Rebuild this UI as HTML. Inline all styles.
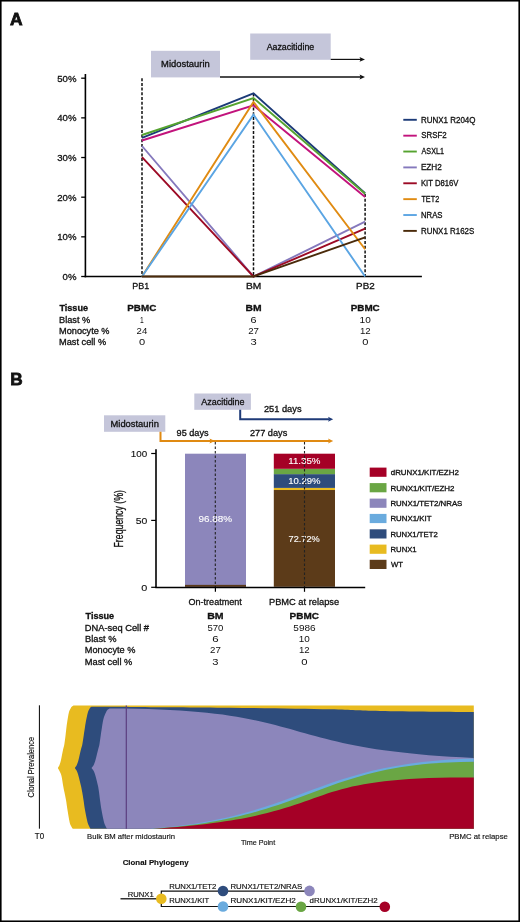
<!DOCTYPE html>
<html><head><meta charset="utf-8"><style>
html,body{margin:0;padding:0;background:#fff;width:520px;height:922px;overflow:hidden}
svg{display:block;will-change:transform}
text{font-family:"Liberation Sans", sans-serif;stroke:#111;stroke-width:0.3px}
</style></head><body>
<svg width="520" height="922" viewBox="0 0 520 922" font-family='"Liberation Sans", sans-serif' fill="#111">
<rect x="0" y="0" width="520" height="922" fill="#fff"/>
<text x="9.97" y="24.60" font-size="17.01" textLength="12.59" lengthAdjust="spacingAndGlyphs" font-weight="bold" style="stroke-width:0.8px">A</text>
<rect x="151" y="50.8" width="69" height="26.6" fill="#c5c6da"/>
<text x="161.13" y="66.90" font-size="8.97" textLength="48.58" lengthAdjust="spacingAndGlyphs">Midostaurin</text>
<rect x="250.2" y="33.5" width="80.5" height="26.3" fill="#c5c6da"/>
<text x="266.68" y="49.50" font-size="8.83" textLength="47.51" lengthAdjust="spacingAndGlyphs">Aazacitidine</text>
<line x1="220" y1="77" x2="361" y2="77" stroke="#111" stroke-width="1.4"/>
<path d="M365,77 L359.5,74.6 L360.7,77 L359.5,79.4 Z" fill="#111"/>
<line x1="330.7" y1="59.4" x2="361" y2="59.4" stroke="#111" stroke-width="1.2"/>
<path d="M365,59.4 L359.5,57.0 L360.7,59.4 L359.5,61.8 Z" fill="#111"/>
<line x1="85.4" y1="74" x2="85.4" y2="277.3" stroke="#000" stroke-width="1.6"/>
<line x1="84.6" y1="276.5" x2="421.9" y2="276.5" stroke="#000" stroke-width="1.6"/>
<line x1="81.2" y1="276.50" x2="85.4" y2="276.50" stroke="#000" stroke-width="1.3"/>
<text x="62.57" y="279.90" font-size="9.60" textLength="13.87" lengthAdjust="spacingAndGlyphs">0%</text>
<line x1="81.2" y1="236.84" x2="85.4" y2="236.84" stroke="#000" stroke-width="1.3"/>
<text x="57.24" y="240.24" font-size="9.60" textLength="19.21" lengthAdjust="spacingAndGlyphs">10%</text>
<line x1="81.2" y1="197.18" x2="85.4" y2="197.18" stroke="#000" stroke-width="1.3"/>
<text x="57.24" y="200.58" font-size="9.60" textLength="19.21" lengthAdjust="spacingAndGlyphs">20%</text>
<line x1="81.2" y1="157.52" x2="85.4" y2="157.52" stroke="#000" stroke-width="1.3"/>
<text x="57.24" y="160.92" font-size="9.60" textLength="19.21" lengthAdjust="spacingAndGlyphs">30%</text>
<line x1="81.2" y1="117.86" x2="85.4" y2="117.86" stroke="#000" stroke-width="1.3"/>
<text x="57.24" y="121.26" font-size="9.60" textLength="19.21" lengthAdjust="spacingAndGlyphs">40%</text>
<line x1="81.2" y1="78.20" x2="85.4" y2="78.20" stroke="#000" stroke-width="1.3"/>
<text x="57.24" y="81.60" font-size="9.60" textLength="19.21" lengthAdjust="spacingAndGlyphs">50%</text>
<line x1="142" y1="78.2" x2="142" y2="276.5" stroke="#111" stroke-width="1.5" stroke-dasharray="3 1.7"/>
<line x1="253.5" y1="93.4" x2="253.5" y2="276.5" stroke="#111" stroke-width="1.5" stroke-dasharray="3 1.7"/>
<line x1="365.1" y1="194" x2="365.1" y2="276.5" stroke="#111" stroke-width="1.5" stroke-dasharray="3 1.7"/>
<polyline points="142,137.9 253.5,93.4 365.1,193.2" fill="none" stroke="#1c3b78" stroke-width="1.9" stroke-linejoin="miter"/>
<polyline points="142,140.5 253.5,105.4 365.1,197.0" fill="none" stroke="#c2137c" stroke-width="1.9" stroke-linejoin="miter"/>
<polyline points="142,135.0 253.5,98.0 365.1,193.8" fill="none" stroke="#55a32f" stroke-width="1.9" stroke-linejoin="miter"/>
<polyline points="142,146.0 253.5,276.5 365.1,221.7" fill="none" stroke="#8579bd" stroke-width="1.9" stroke-linejoin="miter"/>
<polyline points="142,157.1 253.5,276.5 365.1,228.6" fill="none" stroke="#9c0a25" stroke-width="1.9" stroke-linejoin="miter"/>
<polyline points="142,276.5 253.5,101.9 365.1,249.2" fill="none" stroke="#e08b12" stroke-width="1.9" stroke-linejoin="miter"/>
<polyline points="142,276.5 253.5,114.6 365.1,276.5" fill="none" stroke="#5ba5e3" stroke-width="1.9" stroke-linejoin="miter"/>
<polyline points="142,276.5 253.5,276.5 365.1,237.3" fill="none" stroke="#4a2a0a" stroke-width="1.9" stroke-linejoin="miter"/>
<text x="132.36" y="288.90" font-size="9.74" textLength="16.98" lengthAdjust="spacingAndGlyphs">PB1</text>
<text x="245.96" y="288.80" font-size="9.59" textLength="15.38" lengthAdjust="spacingAndGlyphs">BM</text>
<text x="356.09" y="288.80" font-size="9.45" textLength="18.60" lengthAdjust="spacingAndGlyphs">PB2</text>
<line x1="403.3" y1="119.80" x2="416.8" y2="119.80" stroke="#1c3b78" stroke-width="1.9"/>
<text x="420.95" y="122.60" font-size="8.59" textLength="54.54" lengthAdjust="spacingAndGlyphs">RUNX1 R204Q</text>
<line x1="403.3" y1="135.67" x2="416.8" y2="135.67" stroke="#c2137c" stroke-width="1.9"/>
<text x="421.24" y="138.47" font-size="8.59" textLength="25.46" lengthAdjust="spacingAndGlyphs">SRSF2</text>
<line x1="403.3" y1="151.54" x2="416.8" y2="151.54" stroke="#55a32f" stroke-width="1.9"/>
<text x="421.59" y="154.34" font-size="8.59" textLength="22.36" lengthAdjust="spacingAndGlyphs">ASXL1</text>
<line x1="403.3" y1="167.41" x2="416.8" y2="167.41" stroke="#8579bd" stroke-width="1.9"/>
<text x="420.93" y="170.21" font-size="8.59" textLength="20.88" lengthAdjust="spacingAndGlyphs">EZH2</text>
<line x1="403.3" y1="183.28" x2="416.8" y2="183.28" stroke="#9c0a25" stroke-width="1.9"/>
<text x="420.97" y="186.08" font-size="8.59" textLength="37.46" lengthAdjust="spacingAndGlyphs">KIT D816V</text>
<line x1="403.3" y1="199.15" x2="416.8" y2="199.15" stroke="#e08b12" stroke-width="1.9"/>
<text x="421.44" y="201.95" font-size="8.59" textLength="17.73" lengthAdjust="spacingAndGlyphs">TET2</text>
<line x1="403.3" y1="215.02" x2="416.8" y2="215.02" stroke="#5ba5e3" stroke-width="1.9"/>
<text x="420.96" y="217.82" font-size="8.59" textLength="21.59" lengthAdjust="spacingAndGlyphs">NRAS</text>
<line x1="403.3" y1="230.89" x2="416.8" y2="230.89" stroke="#4a2a0a" stroke-width="1.9"/>
<text x="420.95" y="233.69" font-size="8.59" textLength="53.31" lengthAdjust="spacingAndGlyphs">RUNX1 R162S</text>
<text x="59.40" y="311.40" font-size="8.56" textLength="28.61" lengthAdjust="spacingAndGlyphs" font-weight="bold">Tissue</text>
<text x="59.04" y="322.70" font-size="8.69" textLength="31.29" lengthAdjust="spacingAndGlyphs">Blast %</text>
<text x="59.05" y="334.00" font-size="8.94" textLength="50.48" lengthAdjust="spacingAndGlyphs">Monocyte %</text>
<text x="59.04" y="345.20" font-size="8.56" textLength="47.08" lengthAdjust="spacingAndGlyphs">Mast cell %</text>
<text x="127.29" y="311.40" font-size="8.95" textLength="29.03" lengthAdjust="spacingAndGlyphs" font-weight="bold">PBMC</text>
<text x="245.56" y="311.40" font-size="9.08" textLength="16.08" lengthAdjust="spacingAndGlyphs" font-weight="bold">BM</text>
<text x="350.69" y="311.40" font-size="8.95" textLength="29.03" lengthAdjust="spacingAndGlyphs" font-weight="bold">PBMC</text>
<text x="140.04" y="322.70" font-size="8.87" textLength="3.74" lengthAdjust="spacingAndGlyphs" style="stroke-width:0px">1</text>
<text x="250.55" y="322.70" font-size="8.74" textLength="6.03" lengthAdjust="spacingAndGlyphs" style="stroke-width:0px">6</text>
<text x="359.64" y="322.70" font-size="8.74" textLength="11.16" lengthAdjust="spacingAndGlyphs" style="stroke-width:0px">10</text>
<text x="136.57" y="334.00" font-size="8.74" textLength="10.66" lengthAdjust="spacingAndGlyphs" style="stroke-width:0px">24</text>
<text x="248.21" y="334.00" font-size="8.74" textLength="10.77" lengthAdjust="spacingAndGlyphs" style="stroke-width:0px">27</text>
<text x="359.92" y="334.00" font-size="8.74" textLength="10.72" lengthAdjust="spacingAndGlyphs" style="stroke-width:0px">12</text>
<text x="138.92" y="345.20" font-size="8.74" textLength="6.17" lengthAdjust="spacingAndGlyphs" style="stroke-width:0px">0</text>
<text x="250.52" y="345.20" font-size="8.74" textLength="6.22" lengthAdjust="spacingAndGlyphs" style="stroke-width:0px">3</text>
<text x="362.32" y="345.20" font-size="8.74" textLength="6.17" lengthAdjust="spacingAndGlyphs" style="stroke-width:0px">0</text>
<text x="10.25" y="384.60" font-size="16.86" textLength="12.43" lengthAdjust="spacingAndGlyphs" font-weight="bold" style="stroke-width:0.8px">B</text>
<rect x="104" y="415.3" width="61.3" height="16.5" fill="#c5c6da"/>
<text x="110.53" y="426.70" font-size="9.11" textLength="48.38" lengthAdjust="spacingAndGlyphs">Midostaurin</text>
<rect x="194.3" y="393.5" width="56.6" height="16.3" fill="#c5c6da"/>
<text x="201.28" y="404.50" font-size="8.83" textLength="43.32" lengthAdjust="spacingAndGlyphs">Azacitidine</text>
<polyline points="160.5,431.8 160.5,441 329,441" fill="none" stroke="#e08a12" stroke-width="2"/>
<path d="M215,441 L209.4,438.4 L210.6,441 L209.4,443.6 Z" fill="#e08a12"/>
<path d="M333.2,441 L328.0,438.5 L329.2,441 L328.0,443.5 Z" fill="#e08a12"/>
<polyline points="240.2,409.8 240.2,419.2 329,419.2" fill="none" stroke="#1f3b78" stroke-width="2"/>
<path d="M333.2,419.2 L328.0,416.7 L329.2,419.2 L328.0,421.7 Z" fill="#1f3b78"/>
<text x="176.57" y="436.10" font-size="8.56" textLength="31.96" lengthAdjust="spacingAndGlyphs">95 days</text>
<text x="249.94" y="436.40" font-size="8.97" textLength="37.29" lengthAdjust="spacingAndGlyphs">277 days</text>
<text x="263.93" y="412.10" font-size="8.56" textLength="37.60" lengthAdjust="spacingAndGlyphs">251 days</text>
<rect x="185" y="453.70" width="61" height="133.10" fill="#8c86bb"/>
<rect x="185" y="584.87" width="61" height="1.93" fill="#5a3a1a"/>
<rect x="273.8" y="490.01" width="61.2" height="96.79" fill="#5c3b19"/>
<rect x="273.8" y="487.91" width="61.2" height="2.10" fill="#e8bb20"/>
<rect x="273.8" y="474.13" width="61.2" height="13.78" fill="#2e4c7c"/>
<rect x="273.8" y="468.81" width="61.2" height="5.32" fill="#6aa644"/>
<rect x="273.8" y="453.70" width="61.2" height="15.11" fill="#a50026"/>
<text x="198.54" y="522.30" font-size="9.31" textLength="33.62" lengthAdjust="spacingAndGlyphs" fill="#fff" style="stroke:#fff;stroke-width:0.12px">96.88%</text>
<text x="288.53" y="541.70" font-size="9.17" textLength="31.30" lengthAdjust="spacingAndGlyphs" fill="#fff" style="stroke:#fff;stroke-width:0.12px">72.72%</text>
<text x="288.28" y="464.30" font-size="8.74" textLength="32.26" lengthAdjust="spacingAndGlyphs" fill="#fff" style="stroke:#fff;stroke-width:0.12px">11.35%</text>
<text x="288.28" y="483.70" font-size="8.45" textLength="32.26" lengthAdjust="spacingAndGlyphs" fill="#fff" style="stroke:#fff;stroke-width:0.12px">10.29%</text>
<line x1="215.3" y1="442" x2="215.3" y2="587.3" stroke="#222" stroke-width="1.1" stroke-dasharray="2.4 2.1"/>
<line x1="304.5" y1="442" x2="304.5" y2="587.3" stroke="#222" stroke-width="1.1" stroke-dasharray="2.4 2.1"/>
<line x1="156" y1="449.3" x2="156" y2="588.0" stroke="#000" stroke-width="1.6"/>
<line x1="155.3" y1="587.45" x2="365.2" y2="587.45" stroke="#000" stroke-width="1.4"/>
<line x1="151.2" y1="587.30" x2="156" y2="587.30" stroke="#000" stroke-width="1.2"/>
<line x1="151.2" y1="520.40" x2="156" y2="520.40" stroke="#000" stroke-width="1.2"/>
<line x1="151.2" y1="453.50" x2="156" y2="453.50" stroke="#000" stroke-width="1.2"/>
<text x="130.85" y="456.70" font-size="9.60" textLength="16.44" lengthAdjust="spacingAndGlyphs" style="stroke-width:0.12px">100</text>
<text x="135.68" y="523.80" font-size="9.60" textLength="11.63" lengthAdjust="spacingAndGlyphs" style="stroke-width:0.12px">50</text>
<text x="141.28" y="590.70" font-size="9.60" textLength="6.05" lengthAdjust="spacingAndGlyphs" style="stroke-width:0.12px">0</text>
<line x1="215.4" y1="587.3" x2="215.4" y2="591.8" stroke="#000" stroke-width="1.2"/>
<line x1="304.5" y1="587.3" x2="304.5" y2="591.8" stroke="#000" stroke-width="1.2"/>
<text x="188.57" y="604.60" font-size="9.45" textLength="53.19" lengthAdjust="spacingAndGlyphs">On-treatment</text>
<text x="268.94" y="604.70" font-size="9.25" textLength="70.17" lengthAdjust="spacingAndGlyphs">PBMC at relapse</text>
<text transform="translate(123.0,518.7) rotate(-90)" x="-28.79" y="0" font-size="12.94" textLength="57.41" lengthAdjust="spacingAndGlyphs">Frequency (%)</text>
<rect x="369.7" y="467.60" width="16.8" height="9.2" fill="#a50026"/>
<text x="390.77" y="475.10" font-size="7.18" textLength="68.03" lengthAdjust="spacingAndGlyphs">dRUNX1/KIT/EZH2</text>
<rect x="369.7" y="483.10" width="16.8" height="9.2" fill="#6aa644"/>
<text x="390.45" y="490.60" font-size="7.18" textLength="64.05" lengthAdjust="spacingAndGlyphs">RUNX1/KIT/EZH2</text>
<rect x="369.7" y="498.60" width="16.8" height="9.2" fill="#8c86bb"/>
<text x="390.46" y="506.10" font-size="7.18" textLength="71.90" lengthAdjust="spacingAndGlyphs">RUNX1/TET2/NRAS</text>
<rect x="369.7" y="513.90" width="16.8" height="9.2" fill="#6aabde"/>
<text x="390.46" y="521.40" font-size="7.18" textLength="41.02" lengthAdjust="spacingAndGlyphs">RUNX1/KIT</text>
<rect x="369.7" y="529.30" width="16.8" height="9.2" fill="#2e4c7c"/>
<text x="390.47" y="536.80" font-size="7.18" textLength="47.22" lengthAdjust="spacingAndGlyphs">RUNX1/TET2</text>
<rect x="369.7" y="544.60" width="16.8" height="9.2" fill="#e8bb20"/>
<text x="390.47" y="552.10" font-size="7.56" textLength="26.21" lengthAdjust="spacingAndGlyphs">RUNX1</text>
<rect x="369.7" y="559.80" width="16.8" height="9.2" fill="#5c3b19"/>
<text x="391.07" y="567.30" font-size="7.56" textLength="12.01" lengthAdjust="spacingAndGlyphs">WT</text>
<text x="85.50" y="619.20" font-size="8.69" textLength="28.61" lengthAdjust="spacingAndGlyphs" font-weight="bold">Tissue</text>
<text x="84.84" y="630.60" font-size="8.69" textLength="64.21" lengthAdjust="spacingAndGlyphs">DNA-seq Cell #</text>
<text x="85.04" y="641.70" font-size="8.97" textLength="31.49" lengthAdjust="spacingAndGlyphs">Blast %</text>
<text x="84.85" y="653.20" font-size="9.51" textLength="50.58" lengthAdjust="spacingAndGlyphs">Monocyte %</text>
<text x="84.84" y="664.80" font-size="8.97" textLength="47.49" lengthAdjust="spacingAndGlyphs">Mast cell %</text>
<text x="207.24" y="619.20" font-size="8.87" textLength="16.41" lengthAdjust="spacingAndGlyphs" font-weight="bold">BM</text>
<text x="289.63" y="619.20" font-size="8.74" textLength="29.34" lengthAdjust="spacingAndGlyphs" font-weight="bold">PBMC</text>
<text x="207.47" y="630.60" font-size="9.24" textLength="15.96" lengthAdjust="spacingAndGlyphs" style="stroke-width:0px">570</text>
<text x="293.35" y="630.60" font-size="9.24" textLength="22.34" lengthAdjust="spacingAndGlyphs" style="stroke-width:0px">5986</text>
<text x="212.22" y="641.70" font-size="9.24" textLength="6.39" lengthAdjust="spacingAndGlyphs" style="stroke-width:0px">6</text>
<text x="298.79" y="641.70" font-size="9.24" textLength="11.04" lengthAdjust="spacingAndGlyphs" style="stroke-width:0px">10</text>
<text x="210.06" y="653.20" font-size="9.24" textLength="10.77" lengthAdjust="spacingAndGlyphs" style="stroke-width:0px">27</text>
<text x="299.02" y="653.20" font-size="9.24" textLength="10.72" lengthAdjust="spacingAndGlyphs" style="stroke-width:0px">12</text>
<text x="212.37" y="664.80" font-size="9.24" textLength="6.22" lengthAdjust="spacingAndGlyphs" style="stroke-width:0px">3</text>
<text x="301.36" y="664.80" font-size="9.24" textLength="6.28" lengthAdjust="spacingAndGlyphs" style="stroke-width:0px">0</text>
<line x1="39.4" y1="705.3" x2="39.4" y2="828.7" stroke="#000" stroke-width="1"/>
<path d="M473.8,705.5 L73.40,705.50 C73.17,705.68 72.42,706.18 72.00,706.60 C71.58,707.02 71.40,707.10 70.90,708.00 C70.40,708.90 69.48,710.50 69.00,712.00 C68.52,713.50 68.30,715.33 68.00,717.00 C67.70,718.67 67.45,720.33 67.20,722.00 C66.95,723.67 66.77,724.83 66.50,727.00 C66.23,729.17 65.95,732.18 65.60,735.00 C65.25,737.82 64.83,741.40 64.40,743.90 C63.97,746.40 63.57,747.32 63.00,750.00 C62.43,752.68 61.58,757.50 61.00,760.00 C60.42,762.50 60.03,763.67 59.50,765.00 C58.97,766.33 58.08,767.50 57.80,768.00 C58.08,768.50 58.88,769.67 59.50,771.00 C60.12,772.33 60.88,773.50 61.50,776.00 C62.12,778.50 62.72,783.33 63.20,786.00 C63.68,788.67 63.93,789.67 64.40,792.00 C64.87,794.33 65.48,797.00 66.00,800.00 C66.52,803.00 66.97,806.67 67.50,810.00 C68.03,813.33 68.70,817.50 69.20,820.00 C69.70,822.50 69.90,823.53 70.50,825.00 C71.10,826.47 72.42,828.17 72.80,828.80 L473.8,828.8 Z" fill="#e8bb20"/>
<path d="M473.80,712.10 C458.17,711.92 403.97,711.47 380.00,711.00 C356.03,710.53 355.00,709.85 330.00,709.30 C305.00,708.75 263.33,708.10 230.00,707.70 C196.67,707.30 153.10,707.05 130.00,706.90 C106.90,706.75 97.83,706.82 91.40,706.80 L91.40,706.80 C91.17,707.00 90.57,707.13 90.00,708.00 C89.43,708.87 88.53,710.50 88.00,712.00 C87.47,713.50 87.17,715.33 86.80,717.00 C86.43,718.67 86.10,720.33 85.80,722.00 C85.50,723.67 85.33,724.83 85.00,727.00 C84.67,729.17 84.23,732.18 83.80,735.00 C83.37,737.82 82.90,741.40 82.40,743.90 C81.90,746.40 81.45,747.32 80.80,750.00 C80.15,752.68 79.17,757.50 78.50,760.00 C77.83,762.50 77.42,763.67 76.80,765.00 C76.18,766.33 75.13,767.50 74.80,768.00 C75.13,768.50 76.18,769.67 76.80,771.00 C77.42,772.33 77.80,773.50 78.50,776.00 C79.20,778.50 80.38,783.33 81.00,786.00 C81.62,788.67 81.78,789.67 82.20,792.00 C82.62,794.33 83.03,797.00 83.50,800.00 C83.97,803.00 84.42,806.67 85.00,810.00 C85.58,813.33 86.42,817.50 87.00,820.00 C87.58,822.50 87.92,823.53 88.50,825.00 C89.08,826.47 90.17,828.17 90.50,828.80 L473.8,828.8 Z" fill="#2e4c7c"/>
<path d="M473.8,757.9 C271.7,749.2 315,708.3 109.50,708.5 L109.50,708.50 C109.22,708.68 108.35,709.02 107.80,709.60 C107.25,710.18 106.83,710.77 106.20,712.00 C105.57,713.23 104.57,715.33 104.00,717.00 C103.43,718.67 103.13,720.33 102.80,722.00 C102.47,723.67 102.33,724.83 102.00,727.00 C101.67,729.17 101.22,732.18 100.80,735.00 C100.38,737.82 99.97,741.40 99.50,743.90 C99.03,746.40 98.67,747.32 98.00,750.00 C97.33,752.68 96.22,757.50 95.50,760.00 C94.78,762.50 94.37,763.67 93.70,765.00 C93.03,766.33 91.87,767.50 91.50,768.00 C91.87,768.50 93.03,769.67 93.70,771.00 C94.37,772.33 94.78,773.50 95.50,776.00 C96.22,778.50 97.42,783.33 98.00,786.00 C98.58,788.67 98.67,789.67 99.00,792.00 C99.33,794.33 99.58,797.00 100.00,800.00 C100.42,803.00 100.92,806.67 101.50,810.00 C102.08,813.33 102.92,817.50 103.50,820.00 C104.08,822.50 104.42,823.53 105.00,825.00 C105.58,826.47 106.67,828.17 107.00,828.80 L473.8,828.8 Z" fill="#8c86bb"/>
<path d="M150,828.8 C306.0,816.5 313.1,762.9 473.8,758.6 L473.8,828.8 Z" fill="#6aabde"/>
<path d="M152,828.8 C311.0,818.7 319.4,762.4 473.8,761.7 L473.8,828.8 Z" fill="#6aa644"/>
<path d="M153,828.8 C349.3,815.5 283.8,776.1 473.8,777.6 L473.8,828.8 Z" fill="#a50026"/>
<rect x="125.7" y="705.5" width="1.2" height="123.29999999999995" fill="#5b3f80"/>
<text transform="translate(33.8,767.2) rotate(-90)" x="-30.28" y="0" font-size="8.42" textLength="60.51" lengthAdjust="spacingAndGlyphs" style="stroke-width:0.15px">Clonal Prevalence</text>
<text x="34.82" y="838.80" font-size="8.16" textLength="9.29" lengthAdjust="spacingAndGlyphs" style="stroke-width:0.15px">T0</text>
<text x="87.07" y="839.00" font-size="7.87" textLength="88.03" lengthAdjust="spacingAndGlyphs" style="stroke-width:0.15px">Bulk BM after midostaurin</text>
<text x="240.94" y="844.50" font-size="7.87" textLength="34.21" lengthAdjust="spacingAndGlyphs" style="stroke-width:0.15px">Time Point</text>
<text x="449.16" y="838.80" font-size="7.87" textLength="58.68" lengthAdjust="spacingAndGlyphs" style="stroke-width:0.15px">PBMC at relapse</text>
<text x="122.68" y="865.00" font-size="7.73" textLength="65.96" lengthAdjust="spacingAndGlyphs" font-weight="bold" style="stroke-width:0.15px">Clonal Phylogeny</text>
<line x1="120.5" y1="898.8" x2="161.3" y2="898.8" stroke="#333" stroke-width="1.5"/>
<polyline points="309.5,891.2 161.3,891.2 161.3,906.5 384.8,906.5" fill="none" stroke="#111" stroke-width="1.2"/>
<circle cx="161.3" cy="898.8" r="5.3" fill="#e8bb20"/>
<circle cx="223" cy="891" r="5.3" fill="#2e4c7c"/>
<circle cx="309.5" cy="890.9" r="5.3" fill="#8c86bb"/>
<circle cx="223" cy="906.5" r="5.3" fill="#6aabde"/>
<circle cx="301" cy="906.7" r="5.3" fill="#6aa644"/>
<circle cx="384.8" cy="906.7" r="5.3" fill="#a50026"/>
<text x="127.67" y="896.70" font-size="7.12" textLength="26.00" lengthAdjust="spacingAndGlyphs" style="stroke-width:0.15px">RUNX1</text>
<text x="169.17" y="888.50" font-size="7.04" textLength="47.22" lengthAdjust="spacingAndGlyphs" style="stroke-width:0.15px">RUNX1/TET2</text>
<text x="169.17" y="902.80" font-size="7.18" textLength="39.90" lengthAdjust="spacingAndGlyphs" style="stroke-width:0.15px">RUNX1/KIT</text>
<text x="230.46" y="888.50" font-size="7.04" textLength="71.70" lengthAdjust="spacingAndGlyphs" style="stroke-width:0.15px">RUNX1/TET2/NRAS</text>
<text x="230.43" y="903.00" font-size="7.31" textLength="65.37" lengthAdjust="spacingAndGlyphs" style="stroke-width:0.15px">RUNX1/KIT/EZH2</text>
<text x="309.57" y="903.00" font-size="7.45" textLength="68.13" lengthAdjust="spacingAndGlyphs" style="stroke-width:0.15px">dRUNX1/KIT/EZH2</text>
<rect x="0.8" y="0.75" width="518.4" height="920.5" fill="none" stroke="#000" stroke-width="1.6"/>
</svg>
</body></html>
